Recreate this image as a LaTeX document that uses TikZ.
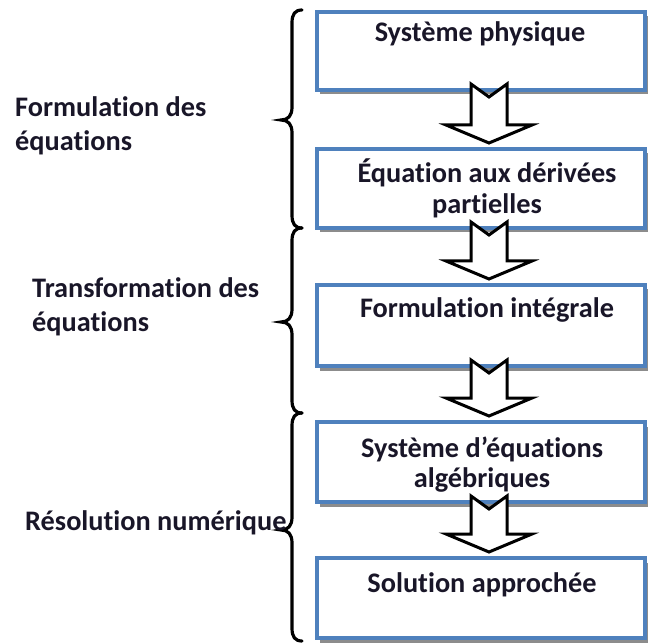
\documentclass[tikz,border=0pt]{standalone}
\usepackage{fontspec}
\setmainfont{Carlito}[Ligatures=NoCommon,RawFeature={-liga;-clig;-dlig}]
\usetikzlibrary{calc,shadows}
\definecolor{boxblue}{RGB}{79,129,189}
\definecolor{txt}{RGB}{25,22,40}
\definecolor{shade}{RGB}{140,140,140}
\tikzset{
  stepbox/.style={draw=boxblue, line width=4pt, fill=white, minimum width=328pt,
    inner sep=0pt, general shadow={shadow xshift=2.5pt, shadow yshift=-4.5pt, fill=shade}},
  lbl/.style={font=\fontsize{28.3}{32}\selectfont\bfseries, text=txt, inner sep=0pt},
  barrow/.style={draw=black, line width=3pt, fill=white, line join=miter},
  bracestyle/.style={draw=black, line width=3.2pt, line cap=round}
}
\newcommand\blockarr[2]{%
  \draw[barrow] let \p1=(#1.south), \p2=(#2.north) in
    (\x1+8pt-18pt,\y1+8pt) -- (\x1+8pt,\y1-5pt) -- (\x1+8pt+18pt,\y1+8pt)
    -- (\x1+8pt+18pt,\y2+22pt) -- (\x1+8pt+43pt,\y2+22pt) -- (\x1+8pt,\y2+4pt)
    -- (\x1+8pt-43pt,\y2+22pt) -- (\x1+8pt-18pt,\y2+22pt) -- cycle;}
\newcommand\curlybr[3]{%
  \draw[bracestyle] (302,#1) .. controls (295,#1) and (292,#1+4) .. (292,#1+13)
    -- (292,#2-13) .. controls (292,#2-4) and (288,#2) .. (281,#2)
    .. controls (288,#2) and (292,#2+4) .. (292,#2+13)
    -- (292,#3-13) .. controls (292,#3-4) and (295,#3) .. (302,#3);}
\begin{document}
\begin{tikzpicture}[x=1pt,y=-1pt]
\useasboundingbox (0,0) rectangle (648,644);
% boxes
\node[stepbox, minimum height=78pt] (b1) at (481,51) {};
\node[stepbox, minimum height=79pt] (b2) at (481,188.5) {};
\node[stepbox, minimum height=81pt] (b3) at (481,325.5) {};
\node[stepbox, minimum height=80pt] (b4) at (481,462) {};
\node[stepbox, minimum height=80pt] (b5) at (481,598) {};
% box texts
\node[lbl, anchor=base] (t1) at (480,42) {Système physique};
\node[lbl, anchor=base] (t2a) at (487,183) {Équation aux dérivées};
\node[lbl, anchor=base] (t2b) at (487,214) {partielles};
\node[lbl, anchor=base] (t3) at (487,318) {Formulation intégrale};
\node[lbl, anchor=base] (t4a) at (482,457) {Système d’équations};
\node[lbl, anchor=base] (t4b) at (482,487) {algébriques};
\node[lbl, anchor=base] (t5) at (482,592) {Solution approchée};
% arrows
\blockarr{b1}{b2}
\blockarr{b2}{b3}
\blockarr{b3}{b4}
\blockarr{b4}{b5}
% braces
\curlybr{10}{120}{228}
\curlybr{228}{322}{413}
\curlybr{413}{530}{641}
% left labels
\node[lbl, anchor=base west] (l1a) at (15,117) {Formulation des};
\node[lbl, anchor=base west] (l1b) at (15,151) {équations};
\node[lbl, anchor=base west] (l2a) at (32,298) {Transformation des};
\node[lbl, anchor=base west] (l2b) at (32,332) {équations};
\node[lbl, anchor=base west] (l3) at (25,530) {Résolution numérique};
\end{tikzpicture}
\end{document}
